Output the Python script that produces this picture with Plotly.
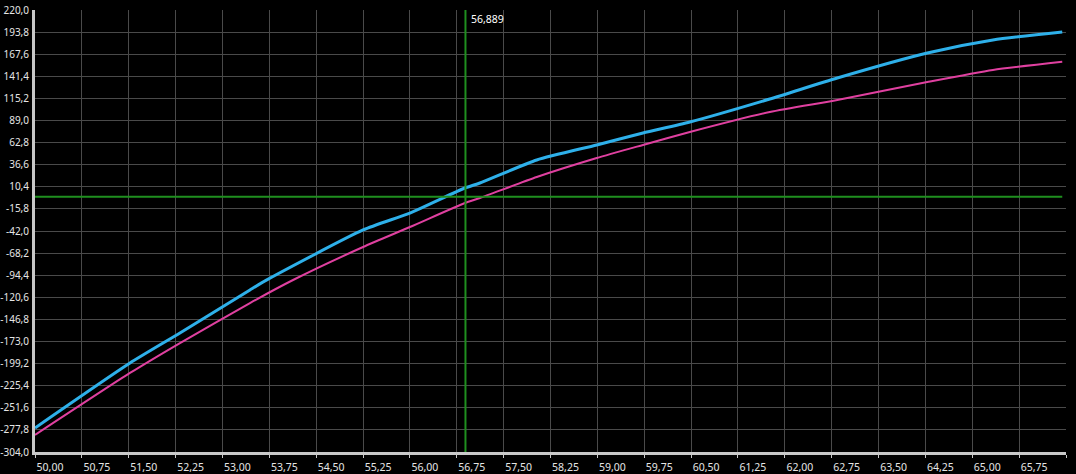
import plotly.graph_objects as go

# Data
x_blue = [50.00, 51.52, 52.32, 53.44, 53.71, 55.25, 56.00, 56.88, 57.12, 58.03,
          58.99, 59.73, 60.48, 61.76, 62.84, 64.28, 65.33, 66.44]
y_blue = [-275.5, -198.5, -162.9, -111.9, -100.0, -40.8, -20.7, 9.0, 14.9, 42.2,
          60.0, 74.2, 87.2, 114.5, 139.4, 169.0, 184.4, 194.0]

x_pink = [50.00, 51.52, 52.32, 53.44, 54.13, 55.25, 56.00, 56.88, 57.12, 58.03,
          58.99, 59.73, 60.48, 61.76, 62.84, 64.28, 65.33, 66.44]
y_pink = [-283.8, -210.3, -174.8, -127.4, -100.1, -61.0, -37.3, -8.8, -2.9, 22.0,
          44.5, 60.0, 75.4, 99.1, 113.3, 134.6, 148.9, 158.6]

cursor_x = 56.889
cursor_y = -1.5

y_ticks = [220.0 - 26.2 * i for i in range(21)]
x_ticks = [50.0 + 0.75 * i for i in range(23)]
y_labels = [f"{v:.1f}".replace(".", ",") for v in y_ticks]
x_labels = [f"{v:.2f}".replace(".", ",") for v in x_ticks]

font = dict(family="Noto Sans", size=10.5, color="#e6e6e6")
yfont = dict(family="Noto Sans", size=10, color="#e6e6e6")

fig = go.Figure()
fig.add_trace(go.Scatter(x=x_pink, y=y_pink, mode="lines",
                         line=dict(color="#e040a0", width=2, shape="spline", smoothing=0.6),
                         showlegend=False, hoverinfo="skip"))
fig.add_trace(go.Scatter(x=x_blue, y=y_blue, mode="lines",
                         line=dict(color="#2eb0ea", width=3, shape="spline", smoothing=0.6),
                         showlegend=False, hoverinfo="skip"))

# cursor lines
fig.add_shape(type="line", xref="x", yref="paper", x0=cursor_x, x1=cursor_x, y0=0, y1=1,
              line=dict(color="#1f8f1f", width=2))
fig.add_shape(type="line", xref="paper", yref="y", x0=0, x1=(66.44 - 50) / 16.5, y0=cursor_y, y1=cursor_y,
              line=dict(color="#1f8f1f", width=2))
fig.add_annotation(x=cursor_x, y=1, xref="x", yref="paper", text="56,889",
                   showarrow=False, xanchor="left", yanchor="top", xshift=4, yshift=0,
                   font=dict(family="Noto Sans", size=10.5, color="#ffffff"))

fig.update_layout(
    width=1076, height=474,
    margin=dict(l=35, r=10, t=10, b=22, autoexpand=False),
    paper_bgcolor="#000000", plot_bgcolor="#000000",
    font=font,
    showlegend=False,
)
fig.update_xaxes(
    range=[50, 66.5], tickvals=x_ticks, ticktext=x_labels,
    showgrid=True, gridcolor="#4a4a4a", gridwidth=1,
    showline=True, linecolor="#c8c8c8", linewidth=3,
    ticks="outside", ticklen=3, tickcolor="#c8c8c8",
    zeroline=False, ticklabelshift=15, ticklabelstandoff=0,
    tickfont=font, automargin=False,
)
fig.update_yaxes(
    range=[-304, 220], tickvals=y_ticks, ticktext=y_labels,
    showgrid=True, gridcolor="#4a4a4a", gridwidth=1,
    showline=True, linecolor="#c8c8c8", linewidth=3,
    ticks="", zeroline=False, ticklabelstandoff=1,
    tickfont=yfont, automargin=False,
)

fig.write_html(
    "out.html",
    config={"displayModeBar": False},
    post_script="document.body.style.margin='0';document.body.style.overflow='hidden';",
)
